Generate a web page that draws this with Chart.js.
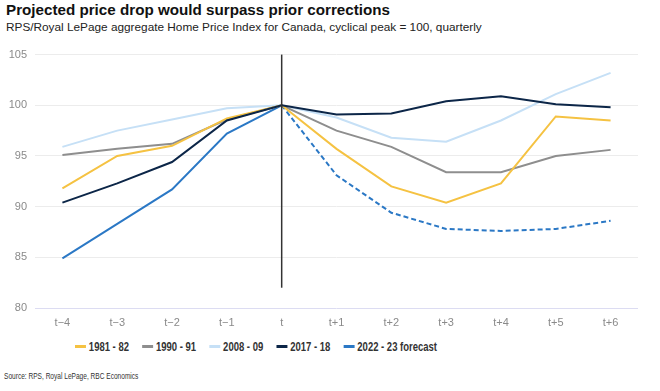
<!DOCTYPE html>
<html>
<head>
<meta charset="utf-8">
<script src="https://cdn.jsdelivr.net/npm/chart.js@4.4.0/dist/chart.umd.min.js"></script>
<style>
  html, body { margin: 0; padding: 0; background: #fff; }
  body { width: 660px; height: 391px; position: relative; overflow: hidden; font-family: "Liberation Sans", Arial, sans-serif; }
  #title { position: absolute; left: 6px; top: 1px; font-size: 15.2px; font-weight: bold; color: #111; }
  #subtitle { position: absolute; left: 6px; top: 20px; font-size: 11.8px; color: #222; }
  #wrap { position: absolute; left: 0; top: 40px; width: 660px; height: 290px; }
  /* narrow bold face is not installed, so squeeze a regular one */
  #legend { position: absolute; left: 75px; top: 339px; display: flex; white-space: nowrap; font-size: 13px; font-weight: bold; color: #333; transform: scaleX(0.73); transform-origin: 0 0; }
  #legend .item { display: flex; align-items: center; margin-right: 18px; }
  #legend .mark { display: inline-block; width: 15px; height: 3px; margin-right: 4px; }
  #source { position: absolute; left: 4px; top: 371px; white-space: nowrap; font-size: 9px; color: #333; transform: scaleX(0.73); transform-origin: 0 0; }
</style>
</head>
<body>
<div id="title">Projected price drop would surpass prior corrections</div>
<div id="subtitle">RPS/Royal LePage aggregate Home Price Index for Canada, cyclical peak = 100, quarterly</div>
<div id="wrap"><canvas id="chart"></canvas></div>
<div id="legend"></div>
<div id="source">Source: RPS, Royal LePage, RBC Economics</div>
<script>
// quarters relative to the cyclical peak
let quarters = ['t\u22124', 't\u22123', 't\u22122', 't\u22121', 't', 't+1', 't+2', 't+3', 't+4', 't+5', 't+6'];

let series1981 = [91.8, 95.0, 96.0, 98.7, 100, 95.7, 92.0, 90.4, 92.3, 98.9, 98.5];
let series1990 = [95.1, 95.7, 96.2, 98.6, 100, 97.5, 95.9, 93.4, 93.4, 95.0, 95.6];
let series2008 = [95.9, 97.5, 98.6, 99.7, 100, 98.8, 96.8, 96.4, 98.5, 101.1, 103.2];
let series2017 = [90.4, 92.3, 94.4, 98.5, 100, 99.1, 99.2, 100.4, 100.9, 100.1, 99.8];
let series2022 = [84.9, 88.3, 91.7, 97.2, 100, 93.1, 89.4, 87.8, 87.6, 87.8, 88.6];

let seriesNames = ['1981 - 82', '1990 - 91', '2008 - 09', '2017 - 18', '2022 - 23 forecast'];
let seriesColors = ['#f5c242', '#8e8e8e', '#c6e0f6', '#0c2648', '#2b78c5'];

let yTicks = [80, 85, 90, 95, 100, 105];
let peakMarker = [105, 82];   // vertical line at t, from / to index value
let forecastStart = 4;        // index of t

let allSeries = [series1981, series1990, series2008, series2017, series2022];

let datasets = allSeries.map(function (values, i) {
    let ds = {
        label: seriesNames[i],
        data: values,
        borderColor: seriesColors[i],
        backgroundColor: seriesColors[i],
        borderWidth: 2,
        pointRadius: 0,
        tension: 0,
        order: i === 3 ? 0 : i + 1
    };
    if (i === 4) {
        ds.segment = {
            borderDash: function (ctx) {
                return ctx.p0DataIndex >= forecastStart ? [5, 3] : undefined;
            }
        };
    }
    return ds;
});

let peakLine = {
    id: 'peakLine',
    afterDatasetsDraw: function (chart) {
        let x = chart.scales.x, y = chart.scales.y, ctx = chart.ctx;
        let px = x.getPixelForValue(quarters.indexOf('t'));
        ctx.save();
        ctx.strokeStyle = '#333';
        ctx.lineWidth = 1.5;
        ctx.beginPath();
        ctx.moveTo(px, y.getPixelForValue(peakMarker[0]));
        ctx.lineTo(px, y.getPixelForValue(peakMarker[1]));
        ctx.stroke();
        ctx.restore();
    }
};

new Chart(document.getElementById('chart').getContext('2d'), {
    type: 'line',
    data: { labels: quarters, datasets: datasets },
    options: {
        responsive: true,
        maintainAspectRatio: false,
        animation: false,
        layout: { padding: { left: 7, right: 22, top: 14, bottom: 0 } },
        plugins: {
            legend: { display: false },
            tooltip: { enabled: false }
        },
        scales: {
            x: {
                offset: true,
                grid: { display: false, drawTicks: false },
                border: { display: false },
                ticks: { color: '#8a8a8a', font: { size: 11, family: 'Liberation Sans' }, padding: 8, maxRotation: 0 },
                afterFit: function (scale) { scale.height = 22; }
            },
            y: {
                min: yTicks[0],
                max: yTicks[yTicks.length - 1],
                afterBuildTicks: function (scale) {
                    scale.ticks = yTicks.map(function (v) { return { value: v }; });
                },
                grid: {
                    drawTicks: false,
                    color: function (ctx) { return ctx.tick && ctx.tick.value === yTicks[0] ? '#dcdcf2' : '#ececec'; },
                    lineWidth: 1
                },
                border: { display: false },
                ticks: { color: '#8a8a8a', font: { size: 11, family: 'Liberation Sans' }, padding: 8 },
                afterFit: function (scale) { scale.width = 28; }
            }
        }
    },
    plugins: [peakLine]
});

let legend = document.getElementById('legend');
seriesNames.forEach(function (name, i) {
    let item = document.createElement('div');
    item.className = 'item';
    let mark = document.createElement('span');
    mark.className = 'mark';
    mark.style.background = seriesColors[i];
    item.appendChild(mark);
    item.appendChild(document.createTextNode(name));
    legend.appendChild(item);
});
</script>
</body>
</html>
